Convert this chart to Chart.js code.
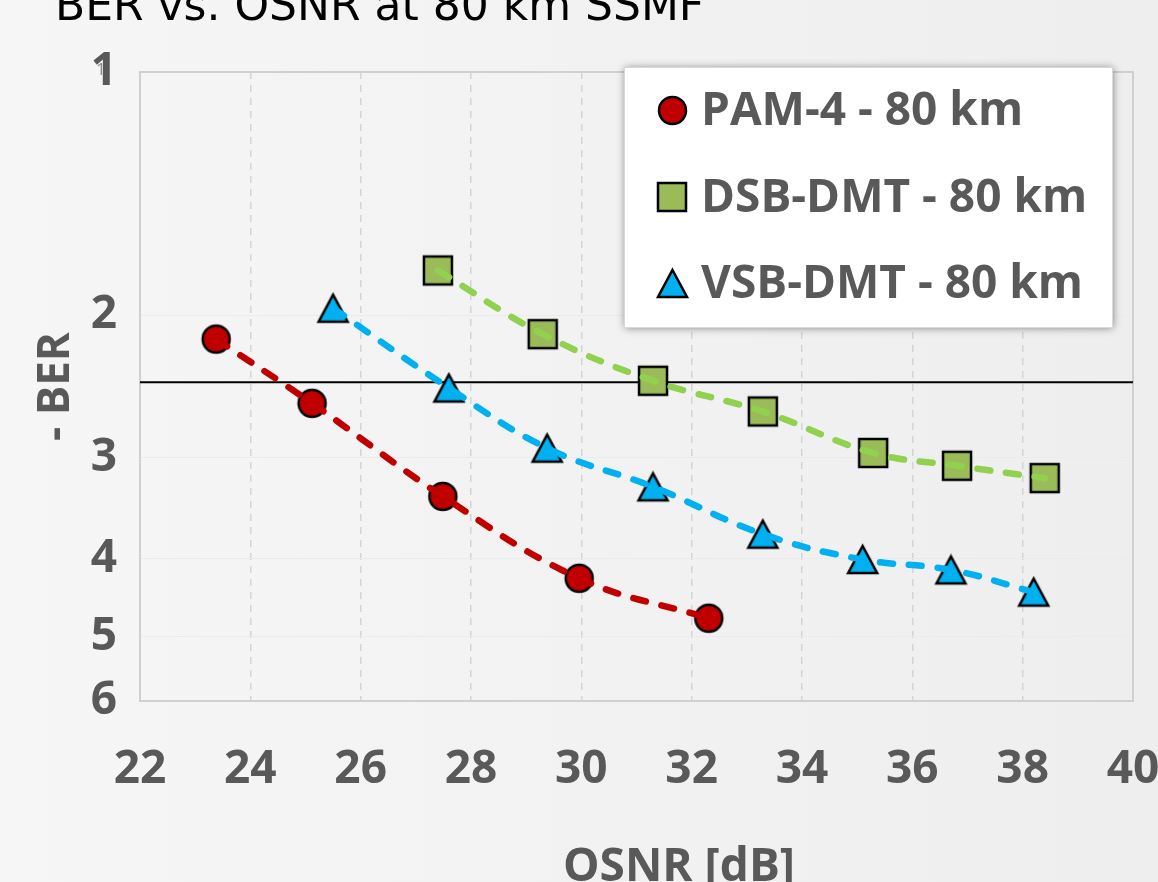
<!DOCTYPE html>
<html>
<head>
<meta charset="utf-8">
<script src="https://cdn.jsdelivr.net/npm/chart.js@4.4.1/dist/chart.umd.min.js"></script>
<style>
  html, body { margin: 0; padding: 0; background: #f2f2f2; overflow: hidden; }
  #wrap { width: 1158px; height: 882px; }
</style>
</head>
<body>
<div id="wrap"><canvas id="chart" width="1158" height="882"></canvas></div>
<script>
// chart data
var x_ticks = [22, 24, 26, 28, 30, 32, 34, 36, 38, 40];
var y_ticks = [1, 2, 3, 4, 5, 6];

var pam_osnr = [23.38, 25.12, 27.49, 29.96, 32.31];
var pam_ber = [2.14, 2.57, 3.35, 4.23, 4.74];

var dsb_osnr = [27.40, 29.30, 31.30, 33.29, 35.29, 36.81, 38.40];
var dsb_ber = [1.76, 2.11, 2.41, 2.63, 2.96, 3.07, 3.18];

var vsb_osnr = [25.50, 27.60, 29.38, 31.30, 33.29, 35.10, 36.70, 38.20];
var vsb_ber = [1.96, 2.46, 2.92, 3.26, 3.73, 4.01, 4.13, 4.40];

var fec_osnr = [22, 40];
var fec_ber = [2.42, 2.42];

var series_names = ['PAM-4 - 80 km', 'DSB-DMT - 80 km', 'VSB-DMT - 80 km'];
var title_text = 'BER vs. OSNR at 80 km SSMF';
var x_title = 'OSNR [dB]';
var y_title = '- BER';

var txt_clr = '#595959';
var font_family = '"Open Sans", "Liberation Sans", sans-serif';

function to_points(xs, ys) {
  return xs.map(function(x, i) { return {x: x, y: ys[i]}; });
}

function make_marker(shape, fill, w, h) {
  var pad = 3;
  var c = document.createElement('canvas');
  c.width = w + pad * 2;
  c.height = h + pad * 2;
  var g = c.getContext('2d');
  g.fillStyle = fill;
  g.strokeStyle = '#000';
  g.lineWidth = 2.5;
  g.beginPath();
  if (shape == 'circle') {
    g.arc(c.width / 2, c.height / 2, w / 2, 0, Math.PI * 2);
  } else if (shape == 'rect') {
    g.rect(pad, pad, w, h);
  } else {
    g.moveTo(c.width / 2, pad);
    g.lineTo(pad + w, pad + h);
    g.lineTo(pad, pad + h);
    g.closePath();
  }
  g.fill();
  g.stroke();
  return c;
}

var mk_pam = make_marker('circle', '#C00000', 27, 27);
var mk_dsb = make_marker('rect', '#9BBB59', 28, 28);
var mk_vsb = make_marker('triangle', '#00B0F0', 29, 27);

// dashed curve, drawn above the markers like the reference
function curve_set(name, xs, ys, clr, ord) {
  return {
    label: name,
    data: to_points(xs, ys),
    borderColor: clr,
    borderWidth: 6.5,
    borderDash: [13, 16],
    borderCapStyle: 'round',
    tension: 0.4,
    pointRadius: 0,
    order: ord
  };
}

function marker_set(name, xs, ys, mk, ord) {
  return {
    label: name,
    data: to_points(xs, ys),
    showLine: false,
    pointStyle: mk,
    order: ord
  };
}

var bg_plugin = {
  id: 'bg_plugin',
  beforeDraw: function(chart) {
    var ctx = chart.ctx;
    var grd = ctx.createLinearGradient(0, 0, chart.width, 0);
    grd.addColorStop(0, '#f6f6f6');
    grd.addColorStop(1, '#eeeeee');
    ctx.save();
    ctx.fillStyle = grd;
    ctx.fillRect(0, 0, chart.width, chart.height);
    ctx.restore();
  },
  beforeDatasetsDraw: function(chart) {
    var a = chart.chartArea;
    var ctx = chart.ctx;
    ctx.save();
    ctx.strokeStyle = '#d0d0d0';
    ctx.lineWidth = 2;
    ctx.strokeRect(a.left, a.top, a.right - a.left, a.bottom - a.top);
    ctx.restore();
  },
  afterDraw: function(chart) {
    var ctx = chart.ctx;
    ctx.save();
    // title, cut at the top edge like the reference
    ctx.fillStyle = '#000';
    ctx.font = '44px "DejaVu Sans"';
    ctx.textBaseline = 'alphabetic';
    ctx.textAlign = 'left';
    ctx.fillText(title_text, 55, 20);

    // small stray label next to the top tick
    ctx.fillStyle = '#8c8c8c';
    ctx.font = '17px ' + font_family;
    ctx.textBaseline = 'middle';
    ctx.fillText('1', 96, 70);

    // x axis title
    ctx.fillStyle = txt_clr;
    ctx.font = 'bold 46px ' + font_family;
    ctx.textAlign = 'center';
    ctx.textBaseline = 'alphabetic';
    ctx.fillText(x_title, 679, 881);

    // legend box
    var bx = 624, by = 67, bw = 488, bh = 260;
    ctx.shadowColor = 'rgba(0,0,0,0.45)';
    ctx.shadowBlur = 8;
    ctx.shadowOffsetX = 1;
    ctx.shadowOffsetY = 1;
    ctx.fillStyle = '#ffffff';
    ctx.fillRect(bx, by, bw, bh);
    ctx.shadowColor = 'transparent';
    ctx.strokeStyle = '#d9d9d9';
    ctx.lineWidth = 1;
    ctx.strokeRect(bx + 0.5, by + 0.5, bw, bh);

    var marks = [mk_pam, mk_dsb, mk_vsb];
    var rows = [110, 197, 283];
    ctx.font = 'bold 46px ' + font_family;
    ctx.textAlign = 'left';
    ctx.textBaseline = 'middle';
    ctx.fillStyle = txt_clr;
    for (var i = 0; i < 3; i++) {
      var m = marks[i];
      ctx.drawImage(m, Math.round(672 - m.width / 2), Math.round(rows[i] - m.height / 2));
      ctx.fillText(series_names[i], 701, rows[i] + 2);
    }
    ctx.restore();
  }
};

var ctx = document.getElementById('chart').getContext('2d');
var tick_font = {family: font_family, size: 46, weight: 'bold'};

window.myChart = new Chart(ctx, {
  type: 'line',
  data: {
    datasets: [
      curve_set(series_names[0], pam_osnr, pam_ber, '#C00000', 1),
      curve_set(series_names[1], dsb_osnr, dsb_ber, '#92D050', 2),
      curve_set(series_names[2], vsb_osnr, vsb_ber, '#00B0F0', 3),
      marker_set(series_names[0], pam_osnr, pam_ber, mk_pam, 4),
      marker_set(series_names[1], dsb_osnr, dsb_ber, mk_dsb, 5),
      marker_set(series_names[2], vsb_osnr, vsb_ber, mk_vsb, 6),
      {
        label: 'FEC',
        data: to_points(fec_osnr, fec_ber),
        borderColor: '#000000',
        borderWidth: 2,
        pointRadius: 0,
        tension: 0,
        order: 10
      }
    ]
  },
  options: {
    responsive: false,
    animation: false,
    layout: {
      padding: {top: 72, right: 25, left: 0, bottom: 0}
    },
    plugins: {
      legend: {display: false},
      tooltip: {enabled: false}
    },
    scales: {
      x: {
        type: 'linear',
        min: 22,
        max: 40,
        afterBuildTicks: function(s) { s.ticks = x_ticks.map(function(v) { return {value: v}; }); },
        afterFit: function(s) {
          s.height = 181;
          s.paddingLeft = 0;
          s.paddingRight = 0;
        },
        grid: {color: '#d4d4d4', lineWidth: 1.5, drawTicks: false},
        border: {display: false, dash: [7, 6]},
        ticks: {padding: 41, color: txt_clr, font: tick_font, maxRotation: 0}
      },
      y: {
        type: 'logarithmic',
        reverse: true,
        min: 1,
        max: 6,
        afterBuildTicks: function(s) { s.ticks = y_ticks.map(function(v) { return {value: v}; }); },
        afterFit: function(s) {
          s.width = 140;
          s.paddingTop = 0;
          s.paddingBottom = 0;
        },
        grid: {color: '#ebebeb', lineWidth: 1, drawTicks: false},
        border: {display: false},
        ticks: {
          padding: 23,
          color: txt_clr,
          font: tick_font,
          callback: function(v) { return String(v); }
        },
        title: {
          display: true,
          text: y_title,
          color: txt_clr,
          font: {family: font_family, size: 44, weight: 'bold'},
          padding: {top: 30, bottom: 0}
        }
      }
    }
  },
  plugins: [bg_plugin]
});
</script>
</body>
</html>
